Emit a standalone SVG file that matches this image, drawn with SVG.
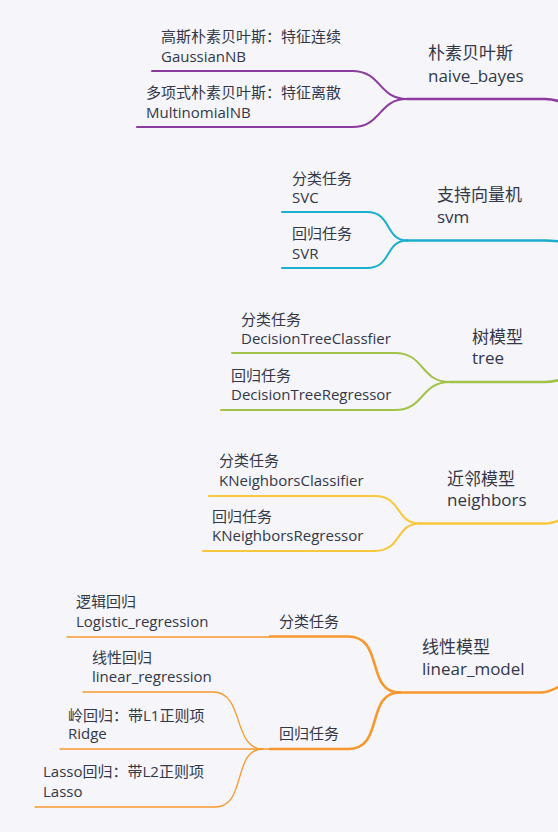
<svg xmlns="http://www.w3.org/2000/svg" width="558" height="832" viewBox="0 0 558 832">
<style>
  .t{font-family:"Open Sans","Noto Sans CJK SC",sans-serif;font-size:15px;fill:#333848}
  .m{font-family:"Open Sans","Noto Sans CJK SC",sans-serif;font-size:17px;fill:#333848}
  path{fill:none;stroke-linecap:round}
  .pu{stroke:#8c3a9e}
  .cy{stroke:#1aaecf}
  .gr{stroke:#a3c24a}
  .ye{stroke:#f8c73c}
  .or{stroke:#f7982f}
  .w3{stroke-width:2.6}
  .w2{stroke-width:2}
  .w1{stroke-width:1.3}
</style>
<rect width="558" height="832" fill="#f5f5fa"/>
<g id="connectors">
  <!-- naive bayes -->
  <path class="pu w3" d="M407,99 H545 C551,99 555,100 560,101.5"/>
  <path class="pu w2" d="M152,71 H352 C382,71 378,99 407,99"/>
  <path class="pu w2" d="M137,127 H352 C382,127 378,99 407,99"/>
  <!-- svm -->
  <path class="cy w3" d="M407,240.5 H545 C551,240.5 555,241 560,241.5"/>
  <path class="cy w2" d="M282,212 H367 C392,212 385,240.5 407,240.5"/>
  <path class="cy w2" d="M282,268 H367 C392,268 385,240.5 407,240.5"/>
  <!-- tree -->
  <path class="gr w3" d="M450,382 H545 C551,382 555,381 560,380"/>
  <path class="gr w2" d="M232,353 H395 C425,353 420,382 450,382"/>
  <path class="gr w2" d="M221,410 H395 C425,410 420,382 450,382"/>
  <!-- neighbors -->
  <path class="ye w3" d="M420,523.5 H545 C551,523.5 555,522 560,520"/>
  <path class="ye w2" d="M209,496 H375 C402,496 395,523.5 420,523.5"/>
  <path class="ye w2" d="M203,551 H375 C402,551 395,523.5 420,523.5"/>
  <!-- linear model -->
  <path class="or w3" d="M400,692.5 H540 C548,692.5 553,690 560,686"/>
  <path class="or w3" d="M270,636.5 H348 C385,636.5 365,692.5 400,692.5"/>
  <path class="or w3" d="M270,749 H348 C385,749 365,692.5 400,692.5"/>
  <path class="or w1" d="M67,637 H270"/>
  <path class="or w1" d="M83,692 H213 C245,692 232,749 263,749"/>
  <path class="or w1" d="M60,749 H270"/>
  <path class="or w1" d="M35,807 H215 C247,807 232,749 263,749"/>
</g>
<g id="naive_bayes"><text class="m" x="428" y="59">朴素贝叶斯</text><text class="m" x="428" y="82">naive_bayes</text></g>
<g id="gaussian_nb"><text class="t" x="161" y="42">高斯朴素贝叶斯：特征连续</text><text class="t" x="161" y="62">GaussianNB</text></g>
<g id="multinomial_nb"><text class="t" x="146" y="98">多项式朴素贝叶斯：特征离散</text><text class="t" x="146" y="118">MultinomialNB</text></g>

<g id="svm"><text class="m" x="437" y="201">支持向量机</text><text class="m" x="437" y="223">svm</text></g>
<g id="svc"><text class="t" x="292" y="184">分类任务</text><text class="t" x="292" y="203">SVC</text></g>
<g id="svr"><text class="t" x="292" y="239">回归任务</text><text class="t" x="292" y="259">SVR</text></g>

<g id="tree"><text class="m" x="472" y="343">树模型</text><text class="m" x="472" y="364">tree</text></g>
<g id="dtc"><text class="t" x="241" y="325">分类任务</text><text class="t" x="241" y="344">DecisionTreeClassfier</text></g>
<g id="dtr"><text class="t" x="231" y="381">回归任务</text><text class="t" x="231" y="400">DecisionTreeRegressor</text></g>

<g id="neighbors"><text class="m" x="447" y="485">近邻模型</text><text class="m" x="447" y="506">neighbors</text></g>
<g id="knc"><text class="t" x="219" y="466">分类任务</text><text class="t" x="219" y="486">KNeighborsClassifier</text></g>
<g id="knr"><text class="t" x="212" y="522">回归任务</text><text class="t" x="212" y="541">KNeighborsRegressor</text></g>

<g id="linear_model"><text class="m" x="422" y="653">线性模型</text><text class="m" x="422" y="675">linear_model</text></g>
<g id="lm_cls"><text class="t" x="279" y="627">分类任务</text></g>
<g id="lm_reg"><text class="t" x="279" y="739">回归任务</text></g>
<g id="logistic"><text class="t" x="76" y="607">逻辑回归</text><text class="t" x="76" y="627">Logistic_regression</text></g>
<g id="linear_reg"><text class="t" x="92" y="663">线性回归</text><text class="t" x="92" y="682">linear_regression</text></g>
<g id="ridge"><text class="t" x="68" y="721">岭回归：带L1正则项</text><text class="t" x="68" y="739">Ridge</text></g>
<g id="lasso"><text class="t" x="43" y="777">Lasso回归：带L2正则项</text><text class="t" x="43" y="797">Lasso</text></g>
</svg>
